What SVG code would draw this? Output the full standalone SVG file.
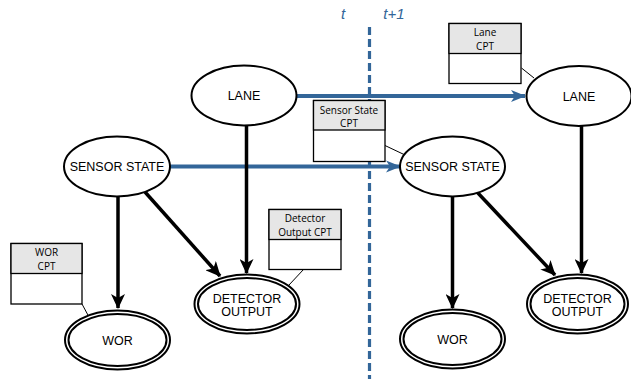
<svg xmlns="http://www.w3.org/2000/svg" width="631" height="379" viewBox="0 0 631 379">
<style>
.node{fill:#fff;stroke:#000;stroke-width:2}
.lbl{font-family:"Liberation Sans",Arial,sans-serif;font-size:12.5px;fill:#000;text-anchor:middle}
.cpt{font-family:"Open Sans","Liberation Sans",sans-serif;font-size:10px;fill:#000;text-anchor:middle}
.box{fill:#fff;stroke:#000;stroke-width:1.3}
.hdr{fill:#e6e6e6;stroke:#000;stroke-width:1.3}
.thin{stroke:#000;stroke-width:1;fill:none}
.blk{stroke:#000;stroke-width:3.5;fill:none;marker-end:url(#ab)}
.blu{stroke:#336699;stroke-width:4;fill:none;marker-end:url(#au)}
.tl{font-family:"Liberation Sans",Arial,sans-serif;font-size:15px;font-style:italic;fill:#336699}
</style>
<defs>
<marker id="ab" markerUnits="userSpaceOnUse" markerWidth="16" markerHeight="14" viewBox="0 0 16 14" refX="14" refY="7" orient="auto">
<path d="M0,0 L15,7 L0,14 L4,7 z" fill="#000"/>
</marker>
<marker id="au" markerUnits="userSpaceOnUse" markerWidth="16" markerHeight="14" viewBox="0 0 16 14" refX="14" refY="7" orient="auto">
<path d="M0,1 L15,7 L0,13 L4,7 z" fill="#336699"/>
</marker>
</defs>
<g id="timeline">
<line x1="369.5" y1="27" x2="369.5" y2="379" stroke="#336699" stroke-width="3.2" stroke-dasharray="8,4"/>
<text class="tl" x="343" y="19" text-anchor="middle">t</text>
<text class="tl" x="394" y="19" text-anchor="middle">t+1</text>
</g>
<g id="connectors">
<line class="blu" x1="297" y1="96" x2="525" y2="96"/>
<line class="blu" x1="170" y1="166.5" x2="400" y2="166.5"/>
<line class="blk" x1="118" y1="196" x2="118" y2="308"/>
<line class="blk" x1="246.5" y1="126" x2="246.5" y2="273"/>
<line class="blk" x1="145" y1="192" x2="220" y2="276"/>
<line class="blk" x1="452.5" y1="196" x2="452.5" y2="308"/>
<line class="blk" x1="581.5" y1="126" x2="581.5" y2="273"/>
<line class="blk" x1="477" y1="192" x2="555" y2="275"/>
<line class="thin" x1="521.5" y1="68" x2="534" y2="78"/>
<line class="thin" x1="385" y1="145.5" x2="404" y2="154.5"/>
<line class="thin" x1="303.5" y1="269.5" x2="289" y2="285"/>
<line class="thin" x1="82" y1="304" x2="89" y2="317"/>
</g>
<g id="lane-t">
<ellipse class="node" cx="244" cy="95.5" rx="52.5" ry="30"/>
<text class="lbl" x="244" y="100">LANE</text>
</g>
<g id="sensor-t">
<ellipse class="node" cx="117" cy="166.5" rx="53" ry="30"/>
<text class="lbl" x="117" y="171">SENSOR STATE</text>
</g>
<g id="wor-t">
<ellipse class="node" cx="117.5" cy="340" rx="52.5" ry="29.5"/>
<ellipse class="node" cx="117.5" cy="340" rx="49" ry="26"/>
<text class="lbl" x="117.5" y="344.5">WOR</text>
</g>
<g id="det-t">
<ellipse class="node" cx="247" cy="304" rx="52.5" ry="29.5"/>
<ellipse class="node" cx="247" cy="304" rx="49" ry="26"/>
<text class="lbl" x="247" y="303">DETECTOR</text>
<text class="lbl" x="247" y="316">OUTPUT</text>
</g>
<g id="lane-t1">
<ellipse class="node" cx="579" cy="96" rx="52.5" ry="30"/>
<text class="lbl" x="579" y="100.5">LANE</text>
</g>
<g id="sensor-t1">
<ellipse class="node" cx="452.5" cy="166.5" rx="52.5" ry="30"/>
<text class="lbl" x="452.5" y="171">SENSOR STATE</text>
</g>
<g id="wor-t1">
<ellipse class="node" cx="452.5" cy="339" rx="52.5" ry="29.5"/>
<ellipse class="node" cx="452.5" cy="339" rx="49" ry="26"/>
<text class="lbl" x="452.5" y="343.5">WOR</text>
</g>
<g id="det-t1">
<ellipse class="node" cx="577.5" cy="304" rx="50.5" ry="29.5"/>
<ellipse class="node" cx="577.5" cy="304" rx="47" ry="26"/>
<text class="lbl" x="577.5" y="303">DETECTOR</text>
<text class="lbl" x="577.5" y="316">OUTPUT</text>
</g>
<g id="lane-cpt">
<rect class="box" x="449" y="23.5" width="72" height="60"/>
<rect class="hdr" x="449" y="23.5" width="72" height="30"/>
<text class="cpt" x="485" y="36">Lane</text>
<text class="cpt" x="485" y="49.5">CPT</text>
</g>
<g id="sensor-cpt">
<rect class="box" x="313.5" y="100.5" width="71.5" height="61"/>
<rect class="hdr" x="313.5" y="100.5" width="71.5" height="29.5"/>
<text class="cpt" x="349" y="113.5">Sensor State</text>
<text class="cpt" x="349" y="127">CPT</text>
</g>
<g id="det-cpt">
<rect class="box" x="269" y="209.5" width="72" height="60"/>
<rect class="hdr" x="269" y="209.5" width="72" height="30"/>
<text class="cpt" x="305" y="222">Detector</text>
<text class="cpt" x="305" y="236">Output CPT</text>
</g>
<g id="wor-cpt">
<rect class="box" x="11" y="243.5" width="71" height="60.5"/>
<rect class="hdr" x="11" y="243.5" width="71" height="30"/>
<text class="cpt" x="46.5" y="256">WOR</text>
<text class="cpt" x="46.5" y="270">CPT</text>
</g>
</svg>
